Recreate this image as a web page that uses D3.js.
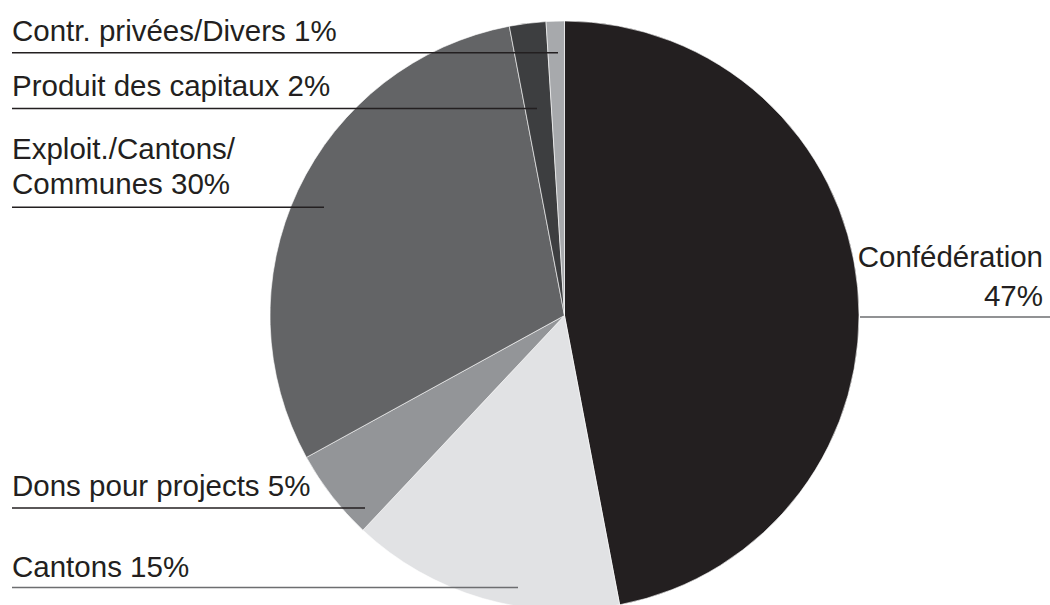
<!DOCTYPE html>
<html>
<head>
<meta charset="utf-8">
<script src="https://cdn.jsdelivr.net/npm/d3@7"></script>
<style>
  html, body { margin: 0; padding: 0; background: #ffffff; }
  svg { display: block; }
  text { font-family: "Liberation Sans", Arial, Helvetica, sans-serif; fill: #231f20; }
</style>
</head>
<body>
<svg id="chart" width="1050" height="605"></svg>
<script>
// Funding sources, clockwise from 12 o'clock
const categories = ["Confédération", "Cantons", "Dons pour projects", "Exploit./Cantons/Communes", "Produit des capitaux", "Contr. privées/Divers"];
const shares = [47, 15, 5, 30, 2, 1];
const sliceColors = ["#231f20", "#e1e2e4", "#939598", "#636466", "#3d3e40", "#a7a9ac"];

// Label text, one entry per printed line
const labelLines = [
  ["Confédération", "47%"],
  ["Cantons 15%"],
  ["Dons pour projects 5%"],
  ["Exploit./Cantons/", "Communes 30%"],
  ["Produit des capitaux 2%"],
  ["Contr. privées/Divers 1%"]
];

const cx = 564.5, cy = 315.5, R = 294.5;

const svg = d3.select("#chart");

const pie = d3.pie().sort(null).value(d => d.value);
const arcs = pie(categories.map((c, i) => ({ name: c, value: shares[i], color: sliceColors[i], lines: labelLines[i] })));
const arc = d3.arc().innerRadius(0).outerRadius(R);

const g = svg.append("g").attr("transform", `translate(${cx},${cy})`);
g.selectAll("path.slice")
  .data(arcs)
  .join("path")
  .attr("class", "slice")
  .attr("d", arc)
  .attr("fill", d => d.data.color)
  .attr("stroke", "#ffffff")
  .attr("stroke-width", 0.6);

// Leader rules: each label sits above a horizontal rule that runs into its slice
const fontSize = 29.5;
const leaders = [
  { ruleY: 317,   x1: 860, x2: 1050, anchor: "end",   textX: 1043, baselines: [266.5, 305.5], stroke: "#6d6e70" },
  { ruleY: 587.5, x1: 12,  x2: 518,  anchor: "start", textX: 12,   baselines: [577],          stroke: "#6d6e70" },
  { ruleY: 508,   x1: 12,  x2: 365,  anchor: "start", textX: 12,   baselines: [496],          stroke: "#231f20" },
  { ruleY: 207.3, x1: 12,  x2: 324,  anchor: "start", textX: 12,   baselines: [159, 194],     stroke: "#231f20" },
  { ruleY: 108.5, x1: 12,  x2: 537,  anchor: "start", textX: 12,   baselines: [95.7],         stroke: "#231f20" },
  { ruleY: 52.7,  x1: 12,  x2: 558,  anchor: "start", textX: 12,   baselines: [41],           stroke: "#231f20" }
];

const labels = svg.append("g");
arcs.forEach((a, i) => {
  const L = leaders[i];
  labels.append("line")
    .attr("x1", L.x1).attr("x2", L.x2)
    .attr("y1", L.ruleY).attr("y2", L.ruleY)
    .attr("stroke", L.stroke)
    .attr("stroke-width", 1.5);
  const t = labels.append("text")
    .attr("font-size", fontSize)
    .attr("text-anchor", L.anchor);
  a.data.lines.forEach((s, k) => {
    t.append("tspan")
      .attr("x", L.textX)
      .attr("y", L.baselines[k])
      .text(s);
  });
});
</script>
</body>
</html>
